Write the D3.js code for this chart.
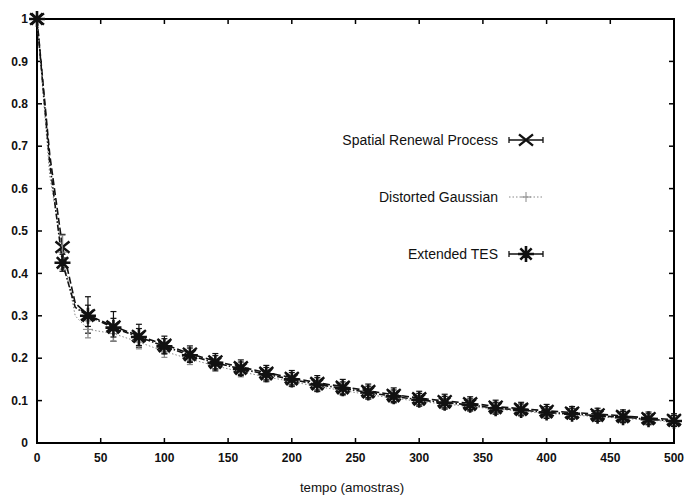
<!DOCTYPE html>
<html>
<head>
<meta charset="utf-8">
<script src="https://cdn.jsdelivr.net/npm/d3@7"></script>
<style>
  body { margin: 0; background: #fff; }
  svg { font-family: "Liberation Sans", Arial, sans-serif; }
</style>
</head>
<body>
<div id="chart"></div>
<script>
// marker positions (amostras)
const xs = [0, 20, 40, 60, 80, 100, 120, 140, 160, 180, 200, 220, 240, 260, 280, 300, 320, 340, 360, 380, 400, 420, 440, 460, 480, 500];

const srpVals = [1, 0.462, 0.302, 0.275, 0.253, 0.232, 0.211, 0.193, 0.179, 0.166, 0.154, 0.142, 0.133, 0.123, 0.114, 0.106, 0.099, 0.094, 0.086, 0.081, 0.076, 0.072, 0.068, 0.064, 0.059, 0.055];
const srpErr = [0, 0.03, 0.043, 0.035, 0.027, 0.02, 0.018, 0.018, 0.017, 0.017, 0.017, 0.017, 0.017, 0.016, 0.016, 0.016, 0.016, 0.015, 0.015, 0.015, 0.015, 0.014, 0.014, 0.014, 0.014, 0.014];

const dgVals = [1, 0.45, 0.268, 0.258, 0.238, 0.216, 0.198, 0.182, 0.168, 0.156, 0.145, 0.133, 0.124, 0.114, 0.106, 0.098, 0.092, 0.086, 0.080, 0.075, 0.070, 0.066, 0.062, 0.058, 0.054, 0.050];
const dgErr = [0, 0.04, 0.02, 0.018, 0.016, 0.014, 0.013, 0.013, 0.012, 0.012, 0.012, 0.012, 0.012, 0.011, 0.011, 0.011, 0.011, 0.011, 0.011, 0.01, 0.01, 0.01, 0.01, 0.01, 0.01, 0.01];

const tesVals = [1, 0.425, 0.300, 0.272, 0.250, 0.228, 0.207, 0.189, 0.175, 0.162, 0.150, 0.138, 0.129, 0.119, 0.110, 0.102, 0.095, 0.090, 0.082, 0.078, 0.072, 0.069, 0.064, 0.061, 0.056, 0.052];
const tesErr = [0, 0.02, 0.025, 0.022, 0.02, 0.018, 0.017, 0.017, 0.016, 0.016, 0.016, 0.016, 0.015, 0.015, 0.015, 0.015, 0.015, 0.014, 0.014, 0.014, 0.014, 0.013, 0.013, 0.013, 0.013, 0.013];

// extra line points between markers, where the curves bend (x = 10 and x = 30)
const bendX = [10, 30];
const srpBend = [0.68, 0.33];
const dgBend = [0.63, 0.30];
const tesBend = [0.66, 0.32];

const xTicks = [0, 50, 100, 150, 200, 250, 300, 350, 400, 450, 500];
const yTicks = [0, 0.1, 0.2, 0.3, 0.4, 0.5, 0.6, 0.7, 0.8, 0.9, 1];

const legendNames = ["Spatial Renewal Process", "Distorted Gaussian", "Extended TES"];

const width = 685, height = 498;
const margin = { top: 19, right: 11, bottom: 55, left: 37 };
const w = width - margin.left - margin.right;
const h = height - margin.top - margin.bottom;

const svg = d3.select("#chart").append("svg")
    .attr("width", width)
    .attr("height", height);

const g = svg.append("g").attr("transform", `translate(${margin.left},${margin.top})`);

const x = d3.scaleLinear().domain([0, 500]).range([0, w]);
const y = d3.scaleLinear().domain([0, 1]).range([h, 0]);

function buildSeries(vals, err, bend) {
    const pts = xs.map((t, i) => ({ x: t, y: vals[i], e: err[i] }));
    const linePts = pts.concat(bendX.map((t, i) => ({ x: t, y: bend[i] })))
        .sort((a, b) => a.x - b.x);
    return { pts, linePts };
}

const series = [
    { name: legendNames[0], ...buildSeries(srpVals, srpErr, srpBend), color: "#111", dash: "7,3", marker: "x", width: 1.6 },
    { name: legendNames[1], ...buildSeries(dgVals, dgErr, dgBend), color: "#888", dash: "1.5,2", marker: "plus", width: 1 },
    { name: legendNames[2], ...buildSeries(tesVals, tesErr, tesBend), color: "#111", dash: "6,2,1.5,2", marker: "star", width: 1.6 }
];

// frame ticks (inward, on all four sides)
const tickLen = 5;
xTicks.forEach(t => {
    g.append("line").attr("x1", x(t)).attr("x2", x(t)).attr("y1", h).attr("y2", h - tickLen)
        .attr("stroke", "#000").attr("stroke-width", 1.5);
    g.append("line").attr("x1", x(t)).attr("x2", x(t)).attr("y1", 0).attr("y2", tickLen)
        .attr("stroke", "#000").attr("stroke-width", 1.5);
    g.append("text").attr("x", x(t)).attr("y", h + 19)
        .attr("text-anchor", "middle").attr("font-size", 12).attr("font-weight", "bold")
        .attr("fill", "#111").text(t);
});
yTicks.forEach(t => {
    g.append("line").attr("x1", 0).attr("x2", tickLen).attr("y1", y(t)).attr("y2", y(t))
        .attr("stroke", "#000").attr("stroke-width", 1.5);
    g.append("line").attr("x1", w).attr("x2", w - tickLen).attr("y1", y(t)).attr("y2", y(t))
        .attr("stroke", "#000").attr("stroke-width", 1.5);
    g.append("text").attr("x", -9).attr("y", y(t)).attr("dy", "0.35em")
        .attr("text-anchor", "end").attr("font-size", 12).attr("font-weight", "bold")
        .attr("fill", "#111").text(t);
});

g.append("rect").attr("x", 0).attr("y", 0).attr("width", w).attr("height", h)
    .attr("fill", "none").attr("stroke", "#000").attr("stroke-width", 2);

const line = d3.line().x(d => x(d.x)).y(d => y(d.y));

function drawMarker(sel, type, cx, cy, color) {
    const m = sel.append("g").attr("transform", `translate(${cx},${cy})`)
        .attr("stroke", color).attr("fill", "none");
    if (type === "x") {
        const r = 7;
        m.append("path").attr("d", `M${-r},${-r * 0.8}L${r},${r * 0.8}M${-r},${r * 0.8}L${r},${-r * 0.8}`)
            .attr("stroke-width", 2.4);
    } else if (type === "plus") {
        const r = 5;
        m.append("path").attr("d", `M${-r},0L${r},0M0,${-r}L0,${r}`).attr("stroke-width", 1);
    } else {
        const r = 8;
        let d = "";
        for (let k = 0; k < 4; k++) {
            const a = k * Math.PI / 4;
            d += `M${-r * Math.cos(a)},${-r * Math.sin(a)}L${r * Math.cos(a)},${r * Math.sin(a)}`;
        }
        m.append("path").attr("d", d).attr("stroke-width", 2.6);
    }
}

series.forEach(s => {
    g.append("path").datum(s.linePts)
        .attr("d", line)
        .attr("fill", "none")
        .attr("stroke", s.color)
        .attr("stroke-width", s.width)
        .attr("stroke-dasharray", s.dash);

    // error bars
    s.pts.filter(d => d.e > 0).forEach(d => {
        const eg = g.append("g").attr("stroke", s.color).attr("stroke-width", 1.2);
        eg.append("line").attr("x1", x(d.x)).attr("x2", x(d.x))
            .attr("y1", y(d.y + d.e)).attr("y2", y(d.y - d.e));
        eg.append("line").attr("x1", x(d.x) - 3).attr("x2", x(d.x) + 3)
            .attr("y1", y(d.y + d.e)).attr("y2", y(d.y + d.e));
        eg.append("line").attr("x1", x(d.x) - 3).attr("x2", x(d.x) + 3)
            .attr("y1", y(d.y - d.e)).attr("y2", y(d.y - d.e));
    });

    s.pts.forEach(d => drawMarker(g, s.marker, x(d.x), y(d.y), s.color));
});

// legend
const legendY = [140, 197, 254];
series.forEach((s, i) => {
    const ly = legendY[i];
    svg.append("text").attr("x", 498).attr("y", ly).attr("dy", "0.35em")
        .attr("text-anchor", "end").attr("font-size", 14)
        .attr("fill", "#111").text(s.name);
    const lg = svg.append("g").attr("stroke", s.color).attr("stroke-width", s.marker === "plus" ? 1 : 1.3);
    lg.append("line").attr("x1", 509).attr("x2", 543).attr("y1", ly).attr("y2", ly)
        .attr("stroke-dasharray", s.marker === "plus" ? "1.5,2" : null);
    if (s.marker !== "plus") {
        lg.append("line").attr("x1", 509).attr("x2", 509).attr("y1", ly - 3).attr("y2", ly + 3);
        lg.append("line").attr("x1", 543).attr("x2", 543).attr("y1", ly - 3).attr("y2", ly + 3);
    }
    drawMarker(svg, s.marker, 526, ly, s.color);
});

svg.append("text").attr("x", 352).attr("y", 487).attr("dy", "0.35em")
    .attr("text-anchor", "middle").attr("font-size", 13.3)
    .attr("fill", "#111").text("tempo (amostras)");
</script>
</body>
</html>
